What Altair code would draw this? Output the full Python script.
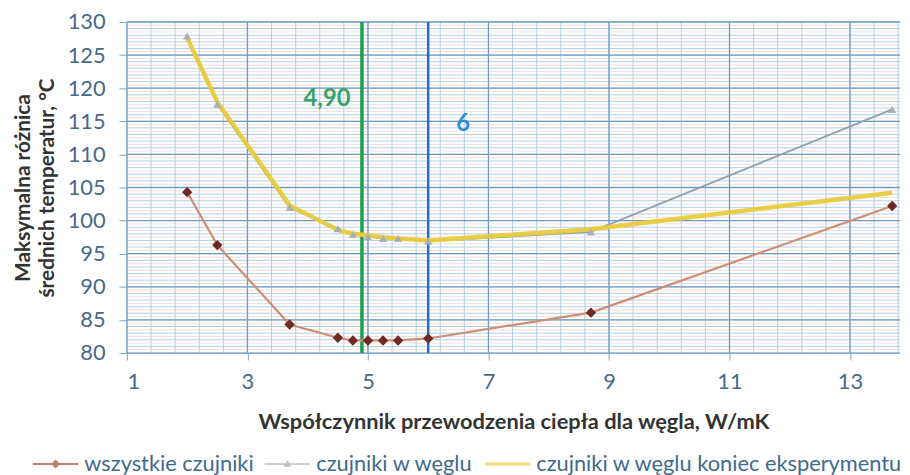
import altair as alt
import pandas as pd
import numpy as np

# ---- data ----
x_vals = [2.0, 2.5, 3.7, 4.5, 4.75, 5.0, 5.25, 5.5, 6.0, 8.7, 13.7]
wszystkie = [104.3, 96.3, 84.3, 82.3, 81.9, 81.9, 81.9, 81.9, 82.2, 86.1, 102.2]
wegiel = [127.9, 117.6, 102.0, 98.8, 97.9, 97.6, 97.3, 97.3, 96.9, 98.3, 116.8]
koniec = [127.6, 117.9, 102.3, 98.6, 98.0, 97.8, 97.5, 97.3, 97.0, 98.7, 104.2]

series_names = ["wszystkie czujniki", "czujniki w węglu", "czujniki w węglu koniec eksperymentu"]

vlines_x = [4.9, 6.0]
ann_text = ["4,90", "6"]
ann_x = [4.32, 6.58]
ann_y = [118.4, 114.6]

x_major = [1, 3, 5, 7, 9, 11, 13]
y_major = [80, 85, 90, 95, 100, 105, 110, 115, 120, 125, 130]
x_minor = [round(v, 2) for v in np.arange(1.0, 13.9, 0.4)]
y_minor = list(range(80, 131))
y_fine = [v + 0.5 for v in range(80, 130)]

FONT = "Lato"

df_b = pd.DataFrame({"x": x_vals, "y": wszystkie})
df_g = pd.DataFrame({"x": x_vals, "y": wegiel})
df_y = pd.DataFrame({"x": x_vals, "y": koniec})

x_scale = alt.Scale(domain=[1, 13.83], nice=False, zero=False)
y_scale = alt.Scale(domain=[80, 130], nice=False, zero=False)

x_axis = alt.Axis(
    values=x_major, grid=False, domain=False, tickColor="#7ba4c8", tickSize=7,
    labelFont=FONT, labelFontSize=22, labelColor="#46698a", labelPadding=12,
    labelExpr="datum.value",
    title="Współczynnik przewodzenia ciepła dla węgla, W/mK",
    titleFont=FONT, titleFontSize=22, titleFontWeight="bold", titleColor="#333333",
    titlePadding=19,
)
y_axis = alt.Axis(
    values=y_major, grid=False, domain=False, tickColor="#7ba4c8", tickSize=8,
    labelFont=FONT, labelFontSize=22, labelColor="#46698a", labelPadding=14,
    title=["Maksymalna różnica", "średnich temperatur, °C"],
    titleFont=FONT, titleFontSize=21, titleFontWeight="bold", titleColor="#333333",
    titlePadding=10, titleLineHeight=24,
)

X = lambda f: alt.X(f, type="quantitative", scale=x_scale, axis=x_axis)
Y = lambda f: alt.Y(f, type="quantitative", scale=y_scale, axis=y_axis)

def vgrid(vals, color, width):
    return alt.Chart(pd.DataFrame({"v": vals})).mark_rule(color=color, strokeWidth=width).encode(x=X("v"))

def hgrid(vals, color, width):
    return alt.Chart(pd.DataFrame({"v": vals})).mark_rule(color=color, strokeWidth=width).encode(y=Y("v"))

grid_layers = [
    hgrid(y_fine, "#f2dede", 1),
    hgrid(y_minor, "#b3cfe6", 1),
    vgrid(x_minor, "#b3cfe6", 1),
    hgrid(y_major, "#6f9cc4", 1.3),
    vgrid(x_major, "#6f9cc4", 1.3),
]

line_b = alt.Chart(df_b).mark_line(color="#cf8e74", strokeWidth=2.2).encode(x=X("x"), y=Y("y"))
pts_b = alt.Chart(df_b).mark_point(shape="diamond", filled=True, color="#6e2a22", size=110, opacity=1).encode(x=X("x"), y=Y("y"))
line_g = alt.Chart(df_g).mark_line(color="#8ea2b3", strokeWidth=2).encode(x=X("x"), y=Y("y"))
pts_g = alt.Chart(df_g).mark_point(shape="triangle-up", filled=True, color="#a3abb2", size=70, opacity=0.9).encode(x=X("x"), y=Y("y"))
line_y = alt.Chart(df_y).mark_line(color="#e9cc3c", strokeWidth=4.5, opacity=0.95).encode(x=X("x"), y=Y("y"))

df_v = pd.DataFrame({"v": vlines_x})
vline_green = alt.Chart(df_v.iloc[[0]]).mark_rule(color="#1c9e4c", strokeWidth=3.5).encode(x=X("v"))
vline_blue = alt.Chart(df_v.iloc[[1]]).mark_rule(color="#2070c8", strokeWidth=2.5).encode(x=X("v"))

df_ann = pd.DataFrame({"t": ann_text, "x": ann_x, "y": ann_y})
ann_green = alt.Chart(df_ann.iloc[[0]]).mark_text(font=FONT, fontSize=24, fontWeight="bold", color="#3aa36a").encode(
    x=X("x"), y=Y("y"), text="t:N")
ann_blue = alt.Chart(df_ann.iloc[[1]]).mark_text(font=FONT, fontSize=24, fontWeight="bold", color="#2a8fd4").encode(
    x=X("x"), y=Y("y"), text="t:N")

# legend built from a point layer placed outside the (clipped) plot, custom symbols
sym_paths = [
    "M-1,-0.04H1V0.04H-1Z M0,-0.2L0.2,0L0,0.2L-0.2,0Z",
    "M-1,-0.03H1V0.03H-1Z M0,-0.17L0.17,0.12H-0.17Z",
    "M-1,-0.07H1V0.07H-1Z",
]
legend_colors = ["#a44a36", "#98a6b3", "#e9cc3c"]
df_leg = pd.DataFrame({"series": series_names, "x": [-100.0] * 3, "y": [-100.0] * 3})
legend_layer = alt.Chart(df_leg).mark_point(filled=True, clip=True).encode(
    x=X("x"), y=Y("y"),
    color=alt.Color("series:N", scale=alt.Scale(domain=series_names, range=legend_colors),
                    legend=alt.Legend(orient="none", legendX=-95, legendY=423, direction="horizontal",
                                      title=None, symbolSize=2116, symbolStrokeWidth=0,
                                      labelFont=FONT, labelFontSize=22, labelColor="#3f6b8c",
                                      labelOffset=6, columnPadding=11, padding=0, labelLimit=600)),
    shape=alt.Shape("series:N", scale=alt.Scale(domain=series_names, range=sym_paths)),
)

chart = alt.layer(
    *grid_layers, vline_green, vline_blue, line_b, pts_b, line_g, line_y, pts_g,
    ann_green, ann_blue, legend_layer
).properties(
    width=780, height=334,
    autosize=alt.AutoSizeParams(type="none"),
    padding={"left": 120, "top": 12, "right": 2, "bottom": 125},
    background="white",
).configure_view(stroke=None)

chart.save("out.html", embed_options={"renderer": "svg", "actions": False})
